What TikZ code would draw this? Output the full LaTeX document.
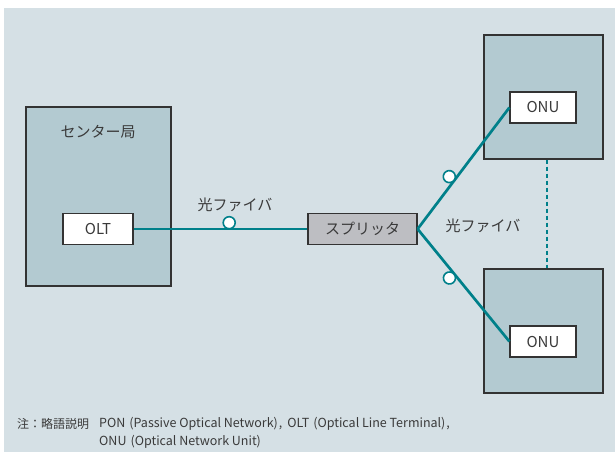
\documentclass[tikz,border=0pt]{standalone}
\usepackage{fontspec}
\setmainfont{Noto Sans CJK JP}
\begin{document}
\begin{tikzpicture}[x=1pt,y=-1pt,
  every node/.style={font=\fontsize{15}{18}\selectfont, text=txt},
  bigbox/.style={draw=edge, line width=1.2pt, fill=boxfill, minimum width=145pt, minimum height=179pt, inner sep=0pt},
  sitebox/.style={draw=edge, line width=1.2pt, fill=boxfill, minimum width=119pt, minimum height=124pt, inner sep=0pt},
  devbox/.style={draw=edge, line width=1.2pt, fill=white, minimum width=66pt, minimum height=31pt, inner sep=0pt},
  splitbox/.style={draw=edge, line width=1.2pt, fill=splitfill, minimum width=109pt, minimum height=31pt, inner sep=0pt},
  fiber/.style={draw=teal0, line width=2.7pt},
  fibcirc/.style={circle, draw=teal0, line width=1.6pt, fill=white, minimum size=12pt, inner sep=0pt},
  notefont/.style={font=\fontsize{12}{14}\selectfont, text=txt},
  notelatin/.style={font=\fontsize{12.5}{14}\selectfont, text=txt}
]
\definecolor{bg}{HTML}{D5E0E5}
\definecolor{boxfill}{HTML}{B3CAD1}
\definecolor{splitfill}{HTML}{BDBEC2}
\definecolor{teal0}{HTML}{00808A}
\definecolor{edge}{HTML}{333333}
\definecolor{txt}{HTML}{3A3A3A}
\useasboundingbox (0,0) rectangle (615,452);
\fill[bg] (4,8) rectangle (615,452);

% center
\node[bigbox] (center) at (98.5,196.5) {};
\node (centertitle) at (98,132) {センター局};
\node[devbox, minimum width=70pt] (olt) at (98,229) {OLT};

% splitter
\node[splitbox] (split) at (362.5,229) {スプリッタ};

% homes
\node[sitebox] (site1) at (543.5,97) {};
\node[devbox] (onu1) at (543,107.5) {ONU};
\node[sitebox] (site2) at (543.5,331) {};
\node[devbox] (onu2) at (543,341.5) {ONU};

% fibers
\draw[fiber] (olt.east) -- (split.west) node[pos=0.55, fibcirc, anchor=south, yshift=-0.5pt] (c0) {};
\draw[fiber] (split.east) -- (onu1.west) node[pos=0.40, fibcirc, sloped, anchor=south, yshift=-0.5pt] (c1) {};
\draw[fiber] (split.east) -- (onu2.west) node[pos=0.40, fibcirc, sloped, anchor=north, yshift=0.5pt] (c2) {};
\draw[teal0, line width=2.2pt, dash pattern=on 4pt off 3pt] ([xshift=3.5pt]site1.south) -- ([xshift=3.5pt]site2.north);

\node (lab1) at (235,205) {光ファイバ};
\node (lab2) at (483,226) {光ファイバ};

% note
\node[notefont, anchor=west, inner sep=0pt] (note0) at (17,424) {注：略語説明};
\node[notelatin, anchor=west, inner sep=0pt] (note1) at (99,424) {PON\kern4pt(Passive Optical Network)\kern1pt,\kern5pt OLT\kern4pt(Optical Line Terminal)\kern1pt,};
\node[notelatin, anchor=west, inner sep=0pt] (note2) at (99,442) {ONU\kern4pt(Optical Network Unit)};
\end{tikzpicture}
\end{document}
